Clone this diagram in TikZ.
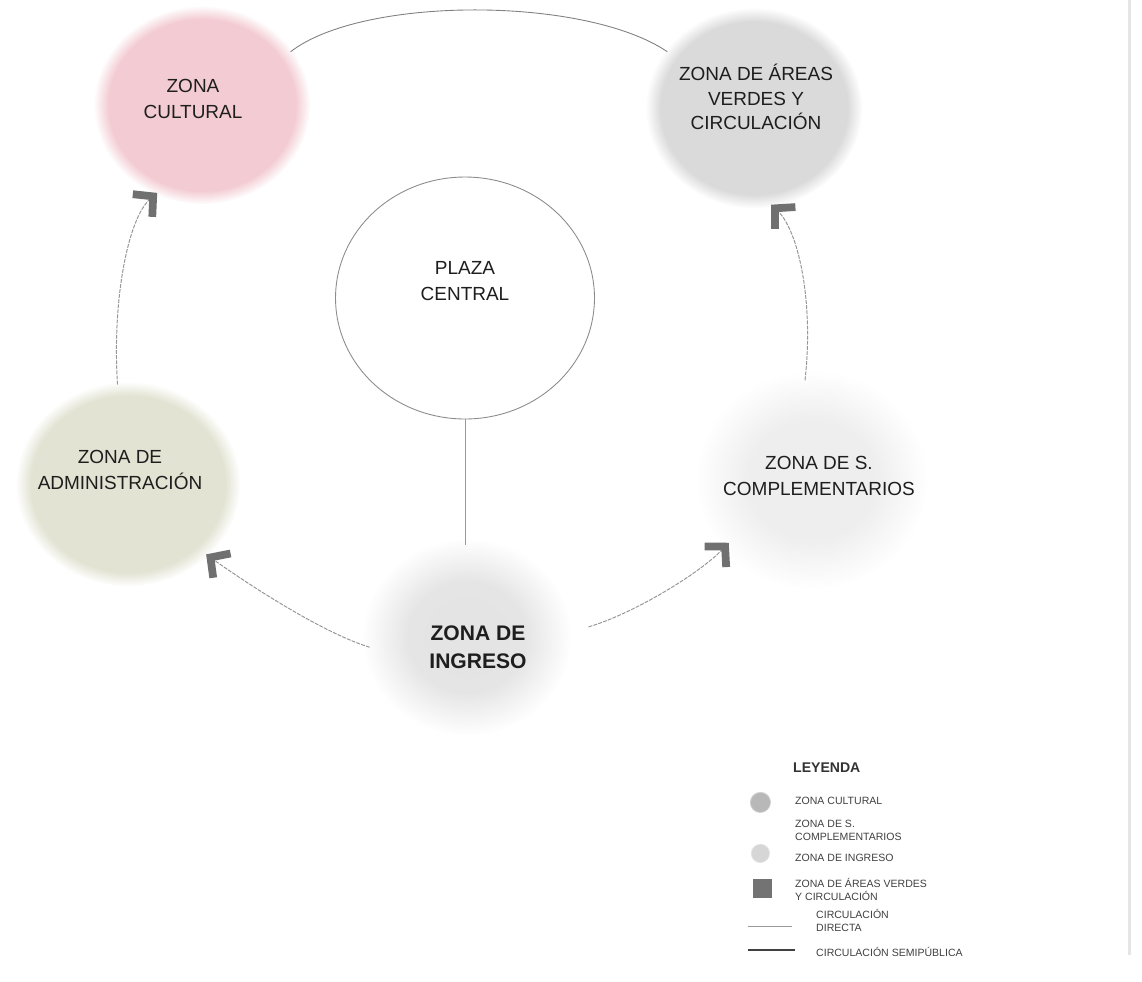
\documentclass[tikz,border=0pt]{standalone}
\usepackage{fontspec}
\setmainfont{Liberation Sans}
\usetikzlibrary{arrows.meta,fadings,shapes.geometric}
\pgfdeclareradialshading{softshA}{\pgfpointorigin}{color(0bp)=(pgftransparent!0); color(21.5bp)=(pgftransparent!0); color(25bp)=(pgftransparent!100)}
\pgfdeclarefading{softA}{\pgfuseshading{softshA}}
\pgfdeclareradialshading{softshB}{\pgfpointorigin}{color(0bp)=(pgftransparent!0); color(14bp)=(pgftransparent!5); color(25bp)=(pgftransparent!100)}
\pgfdeclarefading{softB}{\pgfuseshading{softshB}}
\definecolor{pinkc}{RGB}{243,203,210}
\definecolor{verdc}{RGB}{218,218,218}
\definecolor{admc}{RGB}{226,227,210}
\definecolor{compc}{RGB}{238,238,238}
\definecolor{ingc}{RGB}{228,228,228}
\definecolor{tipc}{RGB}{112,112,112}
\definecolor{linec}{RGB}{150,150,150}
\definecolor{txtc}{RGB}{30,30,30}
\begin{document}
\begin{tikzpicture}[x=0.02cm,y=-0.02cm,
  zone/.style={ellipse, inner sep=0pt, outer sep=0pt},
  ztext/.style={align=center, text=txtc, font=\fontsize{10.8}{14.3}\selectfont},
  conn/.style={draw=linec, line width=0.55pt, dash pattern=on 2.2pt off 0.7pt},
  tipped/.style={-{Straight Barb[length=8pt,width=17pt,line width=4.4pt,color=tipc]}},
  legtext/.style={anchor=west, align=left, text=black!75, font=\fontsize{6}{7.4}\selectfont},
]
\useasboundingbox (0,0) rectangle (1142,981);
\fill[white] (0,0) rectangle (1142,981);
% right border
\draw[black!10, line width=1.7pt] (1129,0) -- (1129,955);

% zone fills
\fill[pinkc, path fading=softA] (202,105) ellipse [x radius=108, y radius=99];
\fill[verdc, path fading=softA] (754,108) ellipse [x radius=108, y radius=100];
\fill[admc, path fading=softA] (128,484) ellipse [x radius=112, y radius=102];
\fill[compc, path fading=softB] (812,480) ellipse [x radius=115, y radius=108];
\fill[ingc, path fading=softB] (467,637) ellipse [x radius=104, y radius=98];

% zone nodes
\node[zone, minimum width=4.24cm, minimum height=3.88cm] (cult) at (202,105) {};
\node[zone, minimum width=4.24cm, minimum height=3.92cm] (verd) at (754,108) {};
\node[zone, minimum width=4.4cm, minimum height=4cm] (adm) at (128,484) {};
\node[zone, minimum width=4.28cm, minimum height=4cm] (comp) at (812,480) {};
\node[zone, minimum width=3.92cm, minimum height=3.68cm] (ing) at (467,637) {};
\node[zone, draw=black!45, line width=0.5pt, minimum width=5.18cm, minimum height=4.84cm] (plaza) at (465,298) {};

% texts
\node[ztext] (cultT) at (193,99) {ZONA\\CULTURAL};
\node[ztext, font=\fontsize{10.8}{13.9}\selectfont] (verdT) at (756,97) {ZONA DE ÁREAS\\VERDES Y\\CIRCULACIÓN};
\node[ztext] (plazaT) at (465,281) {PLAZA\\CENTRAL};
\node[ztext] (admT) at (120,470) {ZONA DE\\ADMINISTRACIÓN};
\node[ztext] (compT) at (819,476) {ZONA DE S.\\COMPLEMENTARIOS};
\node[ztext, font=\bfseries\fontsize{12}{15.8}\selectfont] (ingT) at (478,647) {ZONA DE\\INGRESO};

% connectors
\draw[draw=black!50, line width=0.5pt] (cult.31) .. controls (362,-4) and (585,-4) .. (verd.147);
\draw[draw=black!40, line width=0.5pt] (plaza.south) -- (plaza.south |- ing.north);
\draw[conn, tipped] (adm.96) .. controls (112,300) and (128,218) .. (cult.243);
\draw[conn, tipped] (comp.94) .. controls (814,300) and (798,230) .. (verd.280);
\draw[conn, tipped] (ing.186) .. controls (320,632) and (242,580) .. (adm.318);
\draw[conn, tipped, shorten <=14pt] (ing.2) .. controls (630,615) and (698,575) .. (comp.217);

% legend
\node[anchor=west, text=black!80, font=\bfseries\fontsize{8}{9}\selectfont] (leg) at (787,768) {LEYENDA};
\fill[black!28, path fading=softA] (760,802) circle (11);
\node[circle, minimum size=0.4cm, inner sep=0pt] (sw1) at (760,802) {};
\fill[black!16, path fading=softA] (760,853) circle (10);
\node[circle, minimum size=0.4cm, inner sep=0pt] (sw2) at (760,853) {};
\node[rectangle, fill=black!55, minimum size=0.38cm, inner sep=0pt] (sw3) at (762,888) {};
\coordinate (l1a) at (748,926); \coordinate (l1b) at (792,926);
\coordinate (l2a) at (748,950); \coordinate (l2b) at (795,950);
\draw[black!40, line width=0.5pt] (l1a) -- (l1b);
\draw[black!75, line width=0.6pt] (l2a) -- (l2b);
\node[legtext] (t1) at (789,801) {ZONA CULTURAL};
\node[legtext] (t2) at (789,830) {ZONA DE S.\\COMPLEMENTARIOS};
\node[legtext] (t3) at (789,858) {ZONA DE INGRESO};
\node[legtext] (t4) at (789,889) {ZONA DE ÁREAS VERDES\\Y CIRCULACIÓN};
\node[legtext] (t5) at (810,920) {CIRCULACIÓN\\DIRECTA};
\node[legtext] (t6) at (810,952) {CIRCULACIÓN SEMIPÚBLICA};
\end{tikzpicture}
\end{document}
